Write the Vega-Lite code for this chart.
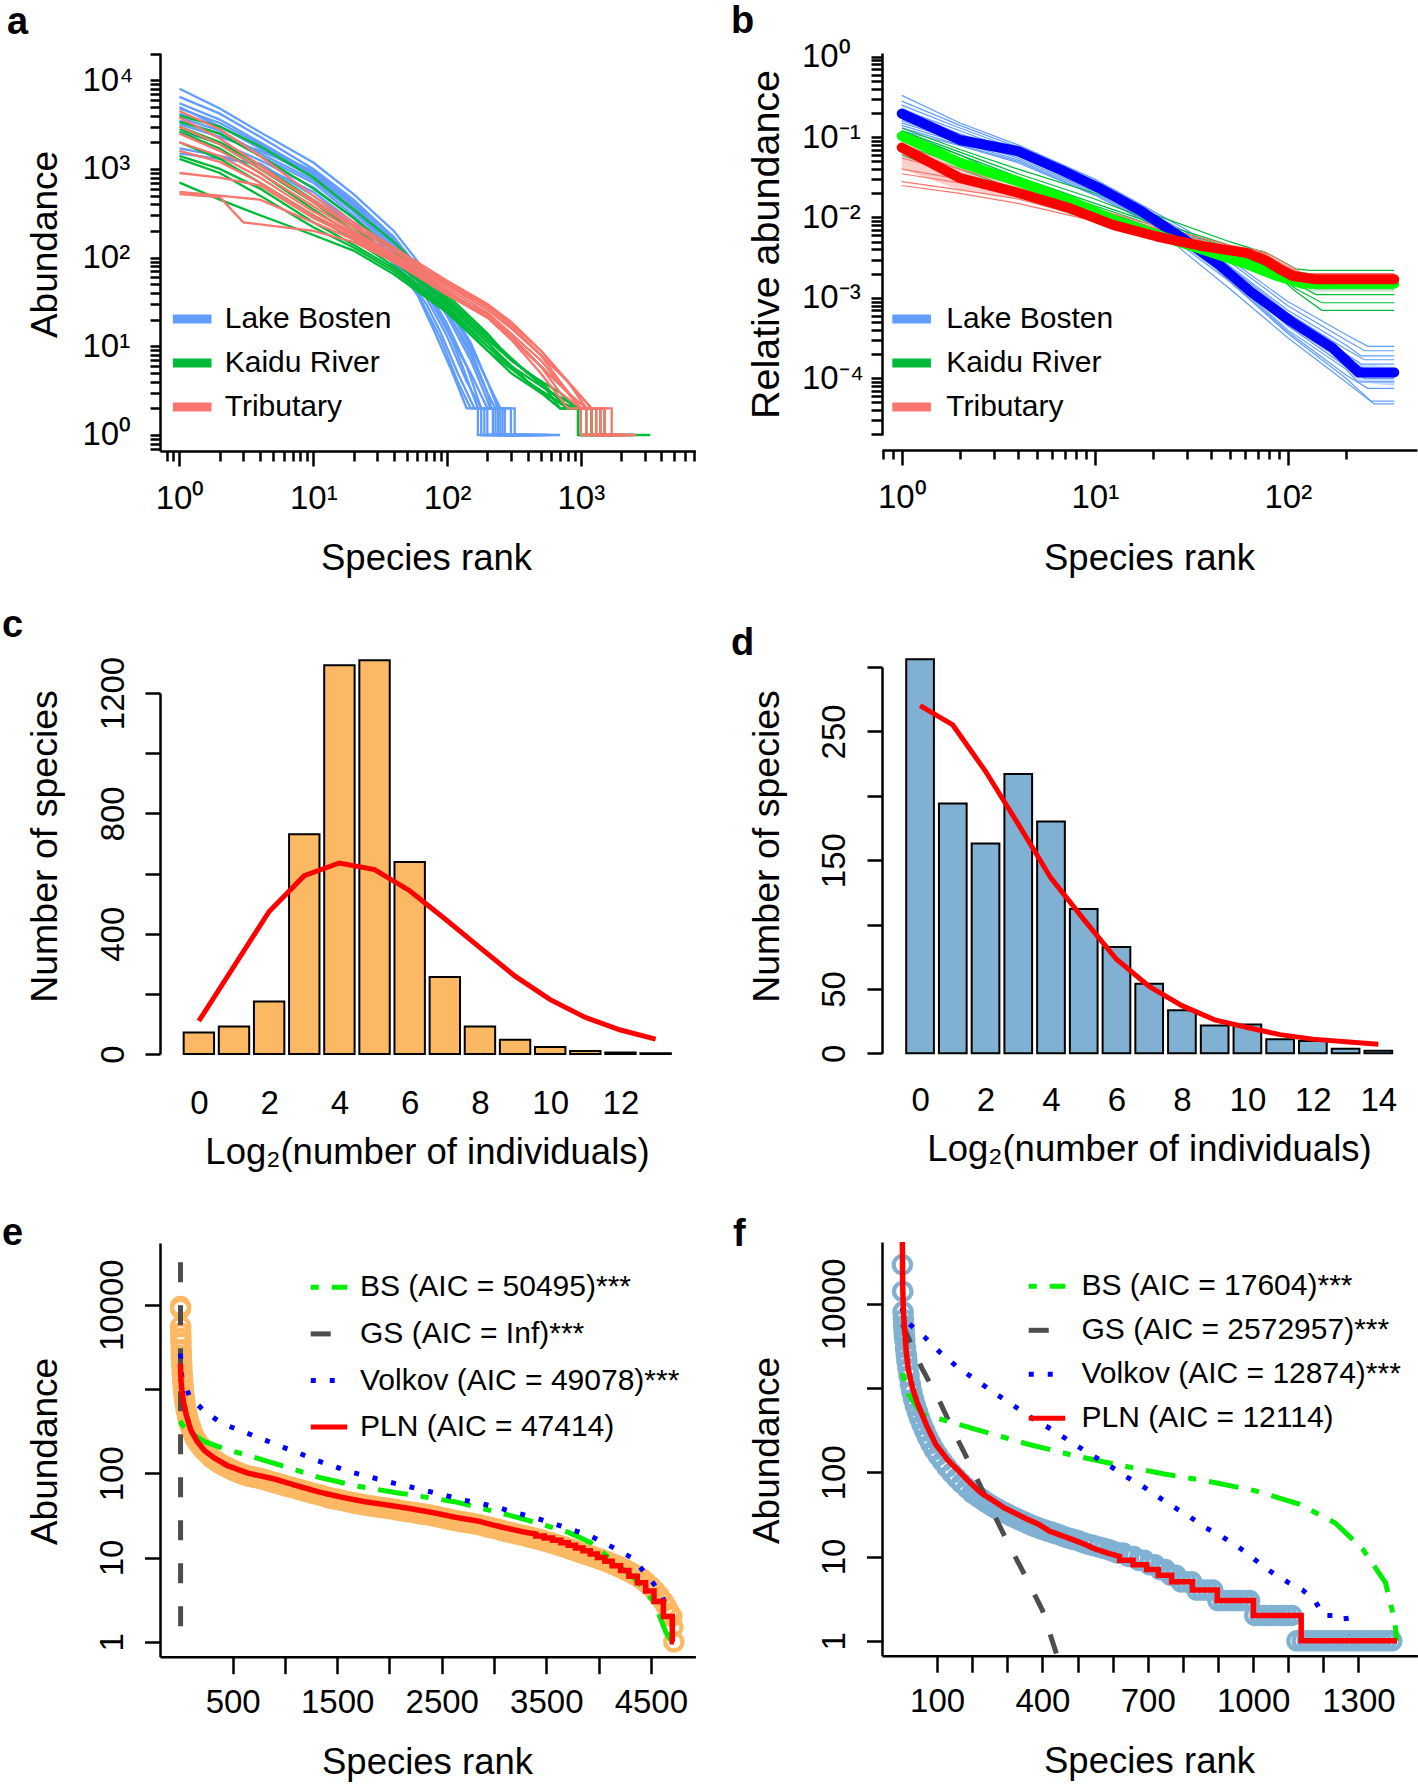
{
"$schema": "https://vega.github.io/schema/vega-lite/v6.json",
"padding": {"left": 2, "top": 3, "right": 0, "bottom": 0},
"config": {
  "font": "Liberation Sans",
  "view": {"stroke": null},
  "axis": {"grid": false, "domainColor": "#000000", "domainWidth": 2.5, "tickColor": "#000000", "tickWidth": 2.5, "labelColor": "#000000", "labelFontSize": 33, "titleColor": "#000000", "titleFontSize": 36.5, "titleFontWeight": "normal", "labelOverlap": false, "labelFlush": false, "labelBound": false, "titleAlign": "center", "titleBaseline": "alphabetic"},
  "legend": {"labelColor": "#000000", "labelFontSize": 30, "labelLimit": 0, "padding": 0, "symbolType": "stroke", "symbolOpacity": 1},
  "title": {"color": "#000000", "fontWeight": "bold", "fontSize": 38, "anchor": "start", "frame": "group", "baseline": "alphabetic"}
},
"datasets": {
"aB": [
{"s":"Lake Bosten","l":"B1","r":1,"v":8000},{"s":"Lake Bosten","l":"B1","r":2,"v":4800},{"s":"Lake Bosten","l":"B1","r":4,"v":2600},{"s":"Lake Bosten","l":"B1","r":10,"v":1180},{"s":"Lake Bosten","l":"B1","r":20,"v":520},{"s":"Lake Bosten","l":"B1","r":40,"v":200},{"s":"Lake Bosten","l":"B1","r":70,"v":68},{"s":"Lake Bosten","l":"B1","r":100,"v":30},{"s":"Lake Bosten","l":"B1","r":150,"v":11},{"s":"Lake Bosten","l":"B1","r":200,"v":4},{"s":"Lake Bosten","l":"B1","r":240,"v":2},{"s":"Lake Bosten","l":"B1","r":300,"v":2},{"s":"Lake Bosten","l":"B1","r":300,"v":1},{"s":"Lake Bosten","l":"B1","r":700,"v":1},
{"s":"Lake Bosten","l":"B2","r":1,"v":6500},{"s":"Lake Bosten","l":"B2","r":2,"v":4200},{"s":"Lake Bosten","l":"B2","r":4,"v":2300},{"s":"Lake Bosten","l":"B2","r":10,"v":1000},{"s":"Lake Bosten","l":"B2","r":20,"v":450},{"s":"Lake Bosten","l":"B2","r":40,"v":170},{"s":"Lake Bosten","l":"B2","r":70,"v":55},{"s":"Lake Bosten","l":"B2","r":100,"v":25},{"s":"Lake Bosten","l":"B2","r":150,"v":8},{"s":"Lake Bosten","l":"B2","r":200,"v":3},{"s":"Lake Bosten","l":"B2","r":230,"v":2},{"s":"Lake Bosten","l":"B2","r":270,"v":2},{"s":"Lake Bosten","l":"B2","r":270,"v":1},{"s":"Lake Bosten","l":"B2","r":520,"v":1},
{"s":"Lake Bosten","l":"B3","r":1,"v":5500},{"s":"Lake Bosten","l":"B3","r":2,"v":3600},{"s":"Lake Bosten","l":"B3","r":4,"v":2000},{"s":"Lake Bosten","l":"B3","r":10,"v":900},{"s":"Lake Bosten","l":"B3","r":20,"v":400},{"s":"Lake Bosten","l":"B3","r":40,"v":150},{"s":"Lake Bosten","l":"B3","r":70,"v":50},{"s":"Lake Bosten","l":"B3","r":100,"v":22},{"s":"Lake Bosten","l":"B3","r":150,"v":7},{"s":"Lake Bosten","l":"B3","r":190,"v":3},{"s":"Lake Bosten","l":"B3","r":210,"v":2},{"s":"Lake Bosten","l":"B3","r":250,"v":2},{"s":"Lake Bosten","l":"B3","r":250,"v":1},{"s":"Lake Bosten","l":"B3","r":450,"v":1},
{"s":"Lake Bosten","l":"B4","r":1,"v":4800},{"s":"Lake Bosten","l":"B4","r":2,"v":3300},{"s":"Lake Bosten","l":"B4","r":4,"v":1900},{"s":"Lake Bosten","l":"B4","r":10,"v":850},{"s":"Lake Bosten","l":"B4","r":20,"v":380},{"s":"Lake Bosten","l":"B4","r":40,"v":140},{"s":"Lake Bosten","l":"B4","r":70,"v":45},{"s":"Lake Bosten","l":"B4","r":100,"v":18},{"s":"Lake Bosten","l":"B4","r":140,"v":6},{"s":"Lake Bosten","l":"B4","r":180,"v":2},{"s":"Lake Bosten","l":"B4","r":230,"v":2},{"s":"Lake Bosten","l":"B4","r":230,"v":1},{"s":"Lake Bosten","l":"B4","r":380,"v":1},
{"s":"Lake Bosten","l":"B5","r":1,"v":4200},{"s":"Lake Bosten","l":"B5","r":2,"v":3000},{"s":"Lake Bosten","l":"B5","r":4,"v":1700},{"s":"Lake Bosten","l":"B5","r":10,"v":800},{"s":"Lake Bosten","l":"B5","r":20,"v":350},{"s":"Lake Bosten","l":"B5","r":40,"v":130},{"s":"Lake Bosten","l":"B5","r":70,"v":42},{"s":"Lake Bosten","l":"B5","r":100,"v":16},{"s":"Lake Bosten","l":"B5","r":130,"v":6},{"s":"Lake Bosten","l":"B5","r":170,"v":2},{"s":"Lake Bosten","l":"B5","r":200,"v":2},{"s":"Lake Bosten","l":"B5","r":200,"v":1},{"s":"Lake Bosten","l":"B5","r":330,"v":1},
{"s":"Lake Bosten","l":"B6","r":1,"v":3800},{"s":"Lake Bosten","l":"B6","r":2,"v":2700},{"s":"Lake Bosten","l":"B6","r":4,"v":1500},{"s":"Lake Bosten","l":"B6","r":10,"v":750},{"s":"Lake Bosten","l":"B6","r":20,"v":330},{"s":"Lake Bosten","l":"B6","r":40,"v":120},{"s":"Lake Bosten","l":"B6","r":70,"v":40},{"s":"Lake Bosten","l":"B6","r":100,"v":15},{"s":"Lake Bosten","l":"B6","r":150,"v":5},{"s":"Lake Bosten","l":"B6","r":200,"v":2},{"s":"Lake Bosten","l":"B6","r":260,"v":2},{"s":"Lake Bosten","l":"B6","r":260,"v":1},{"s":"Lake Bosten","l":"B6","r":600,"v":1},
{"s":"Lake Bosten","l":"B7","r":1,"v":3500},{"s":"Lake Bosten","l":"B7","r":2,"v":2500},{"s":"Lake Bosten","l":"B7","r":4,"v":1400},{"s":"Lake Bosten","l":"B7","r":10,"v":700},{"s":"Lake Bosten","l":"B7","r":20,"v":300},{"s":"Lake Bosten","l":"B7","r":40,"v":110},{"s":"Lake Bosten","l":"B7","r":70,"v":35},{"s":"Lake Bosten","l":"B7","r":100,"v":13},{"s":"Lake Bosten","l":"B7","r":140,"v":4},{"s":"Lake Bosten","l":"B7","r":180,"v":2},{"s":"Lake Bosten","l":"B7","r":220,"v":2},{"s":"Lake Bosten","l":"B7","r":220,"v":1},{"s":"Lake Bosten","l":"B7","r":400,"v":1},
{"s":"Lake Bosten","l":"B8","r":1,"v":2600},{"s":"Lake Bosten","l":"B8","r":2,"v":2000},{"s":"Lake Bosten","l":"B8","r":4,"v":1250},{"s":"Lake Bosten","l":"B8","r":10,"v":620},{"s":"Lake Bosten","l":"B8","r":20,"v":280},{"s":"Lake Bosten","l":"B8","r":40,"v":100},{"s":"Lake Bosten","l":"B8","r":70,"v":30},{"s":"Lake Bosten","l":"B8","r":90,"v":14},{"s":"Lake Bosten","l":"B8","r":120,"v":5},{"s":"Lake Bosten","l":"B8","r":160,"v":2},{"s":"Lake Bosten","l":"B8","r":190,"v":2},{"s":"Lake Bosten","l":"B8","r":190,"v":1},{"s":"Lake Bosten","l":"B8","r":290,"v":1},
{"s":"Lake Bosten","l":"B9","r":1,"v":1700},{"s":"Lake Bosten","l":"B9","r":2,"v":1400},{"s":"Lake Bosten","l":"B9","r":4,"v":1100},{"s":"Lake Bosten","l":"B9","r":10,"v":550},{"s":"Lake Bosten","l":"B9","r":20,"v":250},{"s":"Lake Bosten","l":"B9","r":40,"v":90},{"s":"Lake Bosten","l":"B9","r":60,"v":40},{"s":"Lake Bosten","l":"B9","r":90,"v":12},{"s":"Lake Bosten","l":"B9","r":120,"v":4},{"s":"Lake Bosten","l":"B9","r":150,"v":2},{"s":"Lake Bosten","l":"B9","r":180,"v":2},{"s":"Lake Bosten","l":"B9","r":180,"v":1},{"s":"Lake Bosten","l":"B9","r":350,"v":1},
{"s":"Lake Bosten","l":"B10","r":1,"v":1500},{"s":"Lake Bosten","l":"B10","r":2,"v":1300},{"s":"Lake Bosten","l":"B10","r":4,"v":1150},{"s":"Lake Bosten","l":"B10","r":10,"v":500},{"s":"Lake Bosten","l":"B10","r":20,"v":230},{"s":"Lake Bosten","l":"B10","r":40,"v":85},{"s":"Lake Bosten","l":"B10","r":60,"v":38},{"s":"Lake Bosten","l":"B10","r":80,"v":15},{"s":"Lake Bosten","l":"B10","r":110,"v":5},{"s":"Lake Bosten","l":"B10","r":140,"v":2},{"s":"Lake Bosten","l":"B10","r":170,"v":2},{"s":"Lake Bosten","l":"B10","r":170,"v":1},{"s":"Lake Bosten","l":"B10","r":420,"v":1},
{"s":"Lake Bosten","l":"B11","r":1,"v":5000},{"s":"Lake Bosten","l":"B11","r":2,"v":3000},{"s":"Lake Bosten","l":"B11","r":4,"v":1800},{"s":"Lake Bosten","l":"B11","r":10,"v":950},{"s":"Lake Bosten","l":"B11","r":20,"v":420},{"s":"Lake Bosten","l":"B11","r":40,"v":170},{"s":"Lake Bosten","l":"B11","r":70,"v":60},{"s":"Lake Bosten","l":"B11","r":100,"v":28},{"s":"Lake Bosten","l":"B11","r":150,"v":10},{"s":"Lake Bosten","l":"B11","r":200,"v":4},{"s":"Lake Bosten","l":"B11","r":250,"v":2},{"s":"Lake Bosten","l":"B11","r":320,"v":2},{"s":"Lake Bosten","l":"B11","r":320,"v":1},{"s":"Lake Bosten","l":"B11","r":480,"v":1},
{"s":"Lake Bosten","l":"B12","r":1,"v":3200},{"s":"Lake Bosten","l":"B12","r":2,"v":2300},{"s":"Lake Bosten","l":"B12","r":4,"v":1600},{"s":"Lake Bosten","l":"B12","r":10,"v":900},{"s":"Lake Bosten","l":"B12","r":20,"v":380},{"s":"Lake Bosten","l":"B12","r":40,"v":160},{"s":"Lake Bosten","l":"B12","r":70,"v":55},{"s":"Lake Bosten","l":"B12","r":100,"v":24},{"s":"Lake Bosten","l":"B12","r":150,"v":9},{"s":"Lake Bosten","l":"B12","r":200,"v":3},{"s":"Lake Bosten","l":"B12","r":215,"v":2},{"s":"Lake Bosten","l":"B12","r":240,"v":2},{"s":"Lake Bosten","l":"B12","r":240,"v":1},{"s":"Lake Bosten","l":"B12","r":560,"v":1}
],
"aGR": [
{"s":"Kaidu River","l":"G1","r":1,"v":4000},{"s":"Kaidu River","l":"G1","r":2,"v":3000},{"s":"Kaidu River","l":"G1","r":4,"v":1800},{"s":"Kaidu River","l":"G1","r":10,"v":800},{"s":"Kaidu River","l":"G1","r":20,"v":350},{"s":"Kaidu River","l":"G1","r":40,"v":150},{"s":"Kaidu River","l":"G1","r":100,"v":38},{"s":"Kaidu River","l":"G1","r":200,"v":14},{"s":"Kaidu River","l":"G1","r":300,"v":7},{"s":"Kaidu River","l":"G1","r":500,"v":4},{"s":"Kaidu River","l":"G1","r":700,"v":2},{"s":"Kaidu River","l":"G1","r":1000,"v":2},{"s":"Kaidu River","l":"G1","r":1000,"v":1},{"s":"Kaidu River","l":"G1","r":1400,"v":1},
{"s":"Kaidu River","l":"G2","r":1,"v":3400},{"s":"Kaidu River","l":"G2","r":2,"v":2500},{"s":"Kaidu River","l":"G2","r":4,"v":1400},{"s":"Kaidu River","l":"G2","r":10,"v":600},{"s":"Kaidu River","l":"G2","r":20,"v":280},{"s":"Kaidu River","l":"G2","r":40,"v":120},{"s":"Kaidu River","l":"G2","r":100,"v":35},{"s":"Kaidu River","l":"G2","r":200,"v":13},{"s":"Kaidu River","l":"G2","r":400,"v":5},{"s":"Kaidu River","l":"G2","r":700,"v":3},{"s":"Kaidu River","l":"G2","r":900,"v":2},{"s":"Kaidu River","l":"G2","r":1300,"v":2},{"s":"Kaidu River","l":"G2","r":1300,"v":1},{"s":"Kaidu River","l":"G2","r":2300,"v":1},
{"s":"Kaidu River","l":"G3","r":1,"v":3000},{"s":"Kaidu River","l":"G3","r":2,"v":2000},{"s":"Kaidu River","l":"G3","r":4,"v":1100},{"s":"Kaidu River","l":"G3","r":10,"v":450},{"s":"Kaidu River","l":"G3","r":20,"v":220},{"s":"Kaidu River","l":"G3","r":40,"v":100},{"s":"Kaidu River","l":"G3","r":100,"v":32},{"s":"Kaidu River","l":"G3","r":200,"v":12},{"s":"Kaidu River","l":"G3","r":400,"v":5},{"s":"Kaidu River","l":"G3","r":600,"v":3},{"s":"Kaidu River","l":"G3","r":1000,"v":2},{"s":"Kaidu River","l":"G3","r":1500,"v":2},{"s":"Kaidu River","l":"G3","r":1500,"v":1},{"s":"Kaidu River","l":"G3","r":2000,"v":1},
{"s":"Kaidu River","l":"G4","r":1,"v":2600},{"s":"Kaidu River","l":"G4","r":2,"v":1700},{"s":"Kaidu River","l":"G4","r":4,"v":900},{"s":"Kaidu River","l":"G4","r":10,"v":350},{"s":"Kaidu River","l":"G4","r":20,"v":180},{"s":"Kaidu River","l":"G4","r":40,"v":90},{"s":"Kaidu River","l":"G4","r":100,"v":30},{"s":"Kaidu River","l":"G4","r":200,"v":11},{"s":"Kaidu River","l":"G4","r":400,"v":4},{"s":"Kaidu River","l":"G4","r":700,"v":2},{"s":"Kaidu River","l":"G4","r":1000,"v":2},{"s":"Kaidu River","l":"G4","r":1000,"v":1},{"s":"Kaidu River","l":"G4","r":1300,"v":1},
{"s":"Kaidu River","l":"G5","r":1,"v":2000},{"s":"Kaidu River","l":"G5","r":2,"v":1300},{"s":"Kaidu River","l":"G5","r":4,"v":700},{"s":"Kaidu River","l":"G5","r":10,"v":300},{"s":"Kaidu River","l":"G5","r":20,"v":160},{"s":"Kaidu River","l":"G5","r":40,"v":80},{"s":"Kaidu River","l":"G5","r":100,"v":28},{"s":"Kaidu River","l":"G5","r":200,"v":10},{"s":"Kaidu River","l":"G5","r":400,"v":4},{"s":"Kaidu River","l":"G5","r":800,"v":2},{"s":"Kaidu River","l":"G5","r":1200,"v":2},{"s":"Kaidu River","l":"G5","r":1200,"v":1},{"s":"Kaidu River","l":"G5","r":3300,"v":1},
{"s":"Kaidu River","l":"G6","r":1,"v":1400},{"s":"Kaidu River","l":"G6","r":2,"v":1000},{"s":"Kaidu River","l":"G6","r":4,"v":600},{"s":"Kaidu River","l":"G6","r":10,"v":250},{"s":"Kaidu River","l":"G6","r":20,"v":140},{"s":"Kaidu River","l":"G6","r":40,"v":75},{"s":"Kaidu River","l":"G6","r":100,"v":26},{"s":"Kaidu River","l":"G6","r":200,"v":10},{"s":"Kaidu River","l":"G6","r":300,"v":6},{"s":"Kaidu River","l":"G6","r":600,"v":3},{"s":"Kaidu River","l":"G6","r":1000,"v":2},{"s":"Kaidu River","l":"G6","r":1400,"v":2},{"s":"Kaidu River","l":"G6","r":1400,"v":1},{"s":"Kaidu River","l":"G6","r":1800,"v":1},
{"s":"Kaidu River","l":"G7","r":1,"v":1300},{"s":"Kaidu River","l":"G7","r":2,"v":900},{"s":"Kaidu River","l":"G7","r":4,"v":500},{"s":"Kaidu River","l":"G7","r":10,"v":220},{"s":"Kaidu River","l":"G7","r":20,"v":130},{"s":"Kaidu River","l":"G7","r":40,"v":70},{"s":"Kaidu River","l":"G7","r":100,"v":25},{"s":"Kaidu River","l":"G7","r":200,"v":9},{"s":"Kaidu River","l":"G7","r":400,"v":4},{"s":"Kaidu River","l":"G7","r":700,"v":2},{"s":"Kaidu River","l":"G7","r":950,"v":2},{"s":"Kaidu River","l":"G7","r":950,"v":1},{"s":"Kaidu River","l":"G7","r":1100,"v":1},
{"s":"Kaidu River","l":"G8","r":1,"v":700},{"s":"Kaidu River","l":"G8","r":2,"v":450},{"s":"Kaidu River","l":"G8","r":4,"v":300},{"s":"Kaidu River","l":"G8","r":10,"v":180},{"s":"Kaidu River","l":"G8","r":20,"v":120},{"s":"Kaidu River","l":"G8","r":40,"v":65},{"s":"Kaidu River","l":"G8","r":100,"v":24},{"s":"Kaidu River","l":"G8","r":200,"v":9},{"s":"Kaidu River","l":"G8","r":300,"v":5},{"s":"Kaidu River","l":"G8","r":500,"v":3},{"s":"Kaidu River","l":"G8","r":900,"v":2},{"s":"Kaidu River","l":"G8","r":1200,"v":2},{"s":"Kaidu River","l":"G8","r":1200,"v":1},{"s":"Kaidu River","l":"G8","r":2500,"v":1},
{"s":"Kaidu River","l":"G9","r":1,"v":2800},{"s":"Kaidu River","l":"G9","r":2,"v":1900},{"s":"Kaidu River","l":"G9","r":4,"v":1000},{"s":"Kaidu River","l":"G9","r":10,"v":420},{"s":"Kaidu River","l":"G9","r":20,"v":200},{"s":"Kaidu River","l":"G9","r":40,"v":95},{"s":"Kaidu River","l":"G9","r":100,"v":33},{"s":"Kaidu River","l":"G9","r":200,"v":12},{"s":"Kaidu River","l":"G9","r":300,"v":7},{"s":"Kaidu River","l":"G9","r":500,"v":4},{"s":"Kaidu River","l":"G9","r":800,"v":2},{"s":"Kaidu River","l":"G9","r":1100,"v":2},{"s":"Kaidu River","l":"G9","r":1100,"v":1},{"s":"Kaidu River","l":"G9","r":1500,"v":1},
{"s":"Tributary","l":"R1","r":1,"v":4500},{"s":"Tributary","l":"R1","r":2,"v":2800},{"s":"Tributary","l":"R1","r":4,"v":1400},{"s":"Tributary","l":"R1","r":10,"v":500},{"s":"Tributary","l":"R1","r":20,"v":250},{"s":"Tributary","l":"R1","r":40,"v":130},{"s":"Tributary","l":"R1","r":100,"v":55},{"s":"Tributary","l":"R1","r":200,"v":30},{"s":"Tributary","l":"R1","r":300,"v":19},{"s":"Tributary","l":"R1","r":500,"v":9},{"s":"Tributary","l":"R1","r":800,"v":4},{"s":"Tributary","l":"R1","r":1200,"v":2},{"s":"Tributary","l":"R1","r":1700,"v":2},{"s":"Tributary","l":"R1","r":1700,"v":1},{"s":"Tributary","l":"R1","r":2600,"v":1},
{"s":"Tributary","l":"R2","r":1,"v":3800},{"s":"Tributary","l":"R2","r":2,"v":2200},{"s":"Tributary","l":"R2","r":4,"v":1100},{"s":"Tributary","l":"R2","r":10,"v":420},{"s":"Tributary","l":"R2","r":20,"v":220},{"s":"Tributary","l":"R2","r":40,"v":120},{"s":"Tributary","l":"R2","r":100,"v":50},{"s":"Tributary","l":"R2","r":200,"v":28},{"s":"Tributary","l":"R2","r":300,"v":17},{"s":"Tributary","l":"R2","r":500,"v":8},{"s":"Tributary","l":"R2","r":800,"v":4},{"s":"Tributary","l":"R2","r":1100,"v":2},{"s":"Tributary","l":"R2","r":1500,"v":2},{"s":"Tributary","l":"R2","r":1500,"v":1},{"s":"Tributary","l":"R2","r":2100,"v":1},
{"s":"Tributary","l":"R3","r":1,"v":2500},{"s":"Tributary","l":"R3","r":2,"v":1600},{"s":"Tributary","l":"R3","r":4,"v":900},{"s":"Tributary","l":"R3","r":10,"v":380},{"s":"Tributary","l":"R3","r":20,"v":200},{"s":"Tributary","l":"R3","r":40,"v":110},{"s":"Tributary","l":"R3","r":100,"v":48},{"s":"Tributary","l":"R3","r":200,"v":26},{"s":"Tributary","l":"R3","r":300,"v":16},{"s":"Tributary","l":"R3","r":500,"v":8},{"s":"Tributary","l":"R3","r":700,"v":4},{"s":"Tributary","l":"R3","r":1000,"v":2},{"s":"Tributary","l":"R3","r":1300,"v":2},{"s":"Tributary","l":"R3","r":1300,"v":1},{"s":"Tributary","l":"R3","r":1800,"v":1},
{"s":"Tributary","l":"R4","r":1,"v":2000},{"s":"Tributary","l":"R4","r":2,"v":1400},{"s":"Tributary","l":"R4","r":4,"v":800},{"s":"Tributary","l":"R4","r":10,"v":330},{"s":"Tributary","l":"R4","r":20,"v":190},{"s":"Tributary","l":"R4","r":40,"v":105},{"s":"Tributary","l":"R4","r":100,"v":45},{"s":"Tributary","l":"R4","r":200,"v":24},{"s":"Tributary","l":"R4","r":300,"v":14},{"s":"Tributary","l":"R4","r":500,"v":7},{"s":"Tributary","l":"R4","r":800,"v":3},{"s":"Tributary","l":"R4","r":1100,"v":2},{"s":"Tributary","l":"R4","r":1400,"v":2},{"s":"Tributary","l":"R4","r":1400,"v":1},{"s":"Tributary","l":"R4","r":2000,"v":1},
{"s":"Tributary","l":"R5","r":1,"v":1600},{"s":"Tributary","l":"R5","r":2,"v":1200},{"s":"Tributary","l":"R5","r":4,"v":700},{"s":"Tributary","l":"R5","r":10,"v":300},{"s":"Tributary","l":"R5","r":20,"v":180},{"s":"Tributary","l":"R5","r":40,"v":100},{"s":"Tributary","l":"R5","r":100,"v":42},{"s":"Tributary","l":"R5","r":200,"v":22},{"s":"Tributary","l":"R5","r":300,"v":13},{"s":"Tributary","l":"R5","r":500,"v":6},{"s":"Tributary","l":"R5","r":800,"v":3},{"s":"Tributary","l":"R5","r":1000,"v":2},{"s":"Tributary","l":"R5","r":1300,"v":2},{"s":"Tributary","l":"R5","r":1300,"v":1},{"s":"Tributary","l":"R5","r":1900,"v":1},
{"s":"Tributary","l":"R6","r":1,"v":900},{"s":"Tributary","l":"R6","r":2,"v":800},{"s":"Tributary","l":"R6","r":4,"v":650},{"s":"Tributary","l":"R6","r":10,"v":280},{"s":"Tributary","l":"R6","r":20,"v":170},{"s":"Tributary","l":"R6","r":40,"v":95},{"s":"Tributary","l":"R6","r":100,"v":40},{"s":"Tributary","l":"R6","r":200,"v":22},{"s":"Tributary","l":"R6","r":300,"v":12},{"s":"Tributary","l":"R6","r":500,"v":6},{"s":"Tributary","l":"R6","r":700,"v":3},{"s":"Tributary","l":"R6","r":1000,"v":2},{"s":"Tributary","l":"R6","r":1000,"v":1},{"s":"Tributary","l":"R6","r":1600,"v":1},
{"s":"Tributary","l":"R7","r":1,"v":550},{"s":"Tributary","l":"R7","r":2,"v":500},{"s":"Tributary","l":"R7","r":4,"v":450},{"s":"Tributary","l":"R7","r":10,"v":250},{"s":"Tributary","l":"R7","r":20,"v":160},{"s":"Tributary","l":"R7","r":40,"v":90},{"s":"Tributary","l":"R7","r":100,"v":38},{"s":"Tributary","l":"R7","r":200,"v":21},{"s":"Tributary","l":"R7","r":300,"v":12},{"s":"Tributary","l":"R7","r":500,"v":5},{"s":"Tributary","l":"R7","r":800,"v":2},{"s":"Tributary","l":"R7","r":1100,"v":2},{"s":"Tributary","l":"R7","r":1100,"v":1},{"s":"Tributary","l":"R7","r":2200,"v":1},
{"s":"Tributary","l":"R8","r":1,"v":520},{"s":"Tributary","l":"R8","r":2,"v":480},{"s":"Tributary","l":"R8","r":3,"v":250},{"s":"Tributary","l":"R8","r":10,"v":200},{"s":"Tributary","l":"R8","r":20,"v":150},{"s":"Tributary","l":"R8","r":40,"v":90},{"s":"Tributary","l":"R8","r":100,"v":40},{"s":"Tributary","l":"R8","r":200,"v":23},{"s":"Tributary","l":"R8","r":300,"v":13},{"s":"Tributary","l":"R8","r":500,"v":6},{"s":"Tributary","l":"R8","r":800,"v":3},{"s":"Tributary","l":"R8","r":1000,"v":2},{"s":"Tributary","l":"R8","r":1200,"v":2},{"s":"Tributary","l":"R8","r":1200,"v":1},{"s":"Tributary","l":"R8","r":1700,"v":1},
{"s":"Tributary","l":"R9","r":1,"v":3000},{"s":"Tributary","l":"R9","r":2,"v":1900},{"s":"Tributary","l":"R9","r":4,"v":1000},{"s":"Tributary","l":"R9","r":10,"v":450},{"s":"Tributary","l":"R9","r":20,"v":230},{"s":"Tributary","l":"R9","r":40,"v":120},{"s":"Tributary","l":"R9","r":100,"v":52},{"s":"Tributary","l":"R9","r":200,"v":29},{"s":"Tributary","l":"R9","r":300,"v":18},{"s":"Tributary","l":"R9","r":500,"v":9},{"s":"Tributary","l":"R9","r":800,"v":4},{"s":"Tributary","l":"R9","r":1200,"v":2},{"s":"Tributary","l":"R9","r":1500,"v":2},{"s":"Tributary","l":"R9","r":1500,"v":1},{"s":"Tributary","l":"R9","r":2400,"v":1}
],
"bT": [
{"s":"Lake Bosten","l":"b1","r":1,"v":0.33},{"s":"Lake Bosten","l":"b1","r":2,"v":0.15},{"s":"Lake Bosten","l":"b1","r":4,"v":0.08},{"s":"Lake Bosten","l":"b1","r":10,"v":0.03},{"s":"Lake Bosten","l":"b1","r":20,"v":0.012},{"s":"Lake Bosten","l":"b1","r":30,"v":0.007},{"s":"Lake Bosten","l":"b1","r":50,"v":0.003},{"s":"Lake Bosten","l":"b1","r":100,"v":0.0009},{"s":"Lake Bosten","l":"b1","r":200,"v":0.00035},{"s":"Lake Bosten","l":"b1","r":260,"v":0.00025},{"s":"Lake Bosten","l":"b1","r":356,"v":0.00025},
{"s":"Lake Bosten","l":"b2","r":1,"v":0.28},{"s":"Lake Bosten","l":"b2","r":2,"v":0.14},{"s":"Lake Bosten","l":"b2","r":4,"v":0.075},{"s":"Lake Bosten","l":"b2","r":10,"v":0.028},{"s":"Lake Bosten","l":"b2","r":20,"v":0.011},{"s":"Lake Bosten","l":"b2","r":30,"v":0.0065},{"s":"Lake Bosten","l":"b2","r":50,"v":0.0028},{"s":"Lake Bosten","l":"b2","r":100,"v":0.0008},{"s":"Lake Bosten","l":"b2","r":200,"v":0.0003},{"s":"Lake Bosten","l":"b2","r":250,"v":0.00022},{"s":"Lake Bosten","l":"b2","r":356,"v":0.00022},
{"s":"Lake Bosten","l":"b3","r":1,"v":0.25},{"s":"Lake Bosten","l":"b3","r":2,"v":0.13},{"s":"Lake Bosten","l":"b3","r":4,"v":0.07},{"s":"Lake Bosten","l":"b3","r":10,"v":0.026},{"s":"Lake Bosten","l":"b3","r":20,"v":0.0105},{"s":"Lake Bosten","l":"b3","r":30,"v":0.006},{"s":"Lake Bosten","l":"b3","r":50,"v":0.0025},{"s":"Lake Bosten","l":"b3","r":100,"v":0.0007},{"s":"Lake Bosten","l":"b3","r":200,"v":0.00026},{"s":"Lake Bosten","l":"b3","r":240,"v":0.00019},{"s":"Lake Bosten","l":"b3","r":356,"v":0.00019},
{"s":"Lake Bosten","l":"b4","r":1,"v":0.22},{"s":"Lake Bosten","l":"b4","r":2,"v":0.12},{"s":"Lake Bosten","l":"b4","r":4,"v":0.065},{"s":"Lake Bosten","l":"b4","r":10,"v":0.025},{"s":"Lake Bosten","l":"b4","r":20,"v":0.01},{"s":"Lake Bosten","l":"b4","r":30,"v":0.0058},{"s":"Lake Bosten","l":"b4","r":50,"v":0.0024},{"s":"Lake Bosten","l":"b4","r":100,"v":0.00065},{"s":"Lake Bosten","l":"b4","r":200,"v":0.00023},{"s":"Lake Bosten","l":"b4","r":250,"v":0.00017},{"s":"Lake Bosten","l":"b4","r":356,"v":0.00017},
{"s":"Lake Bosten","l":"b5","r":1,"v":0.2},{"s":"Lake Bosten","l":"b5","r":2,"v":0.11},{"s":"Lake Bosten","l":"b5","r":4,"v":0.062},{"s":"Lake Bosten","l":"b5","r":10,"v":0.024},{"s":"Lake Bosten","l":"b5","r":20,"v":0.0098},{"s":"Lake Bosten","l":"b5","r":30,"v":0.0055},{"s":"Lake Bosten","l":"b5","r":50,"v":0.0022},{"s":"Lake Bosten","l":"b5","r":100,"v":0.0006},{"s":"Lake Bosten","l":"b5","r":200,"v":0.0002},{"s":"Lake Bosten","l":"b5","r":240,"v":0.00015},{"s":"Lake Bosten","l":"b5","r":356,"v":0.00015},
{"s":"Lake Bosten","l":"b6","r":1,"v":0.18},{"s":"Lake Bosten","l":"b6","r":2,"v":0.1},{"s":"Lake Bosten","l":"b6","r":4,"v":0.06},{"s":"Lake Bosten","l":"b6","r":10,"v":0.023},{"s":"Lake Bosten","l":"b6","r":20,"v":0.0095},{"s":"Lake Bosten","l":"b6","r":30,"v":0.005},{"s":"Lake Bosten","l":"b6","r":50,"v":0.002},{"s":"Lake Bosten","l":"b6","r":100,"v":0.00055},{"s":"Lake Bosten","l":"b6","r":200,"v":0.00018},{"s":"Lake Bosten","l":"b6","r":250,"v":0.00013},{"s":"Lake Bosten","l":"b6","r":356,"v":0.00013},
{"s":"Lake Bosten","l":"b7","r":1,"v":0.16},{"s":"Lake Bosten","l":"b7","r":2,"v":0.095},{"s":"Lake Bosten","l":"b7","r":4,"v":0.058},{"s":"Lake Bosten","l":"b7","r":10,"v":0.022},{"s":"Lake Bosten","l":"b7","r":20,"v":0.009},{"s":"Lake Bosten","l":"b7","r":30,"v":0.0048},{"s":"Lake Bosten","l":"b7","r":50,"v":0.0019},{"s":"Lake Bosten","l":"b7","r":100,"v":0.0005},{"s":"Lake Bosten","l":"b7","r":200,"v":0.00016},{"s":"Lake Bosten","l":"b7","r":240,"v":0.00012},{"s":"Lake Bosten","l":"b7","r":356,"v":0.00012},
{"s":"Lake Bosten","l":"b8","r":1,"v":0.15},{"s":"Lake Bosten","l":"b8","r":2,"v":0.09},{"s":"Lake Bosten","l":"b8","r":4,"v":0.055},{"s":"Lake Bosten","l":"b8","r":10,"v":0.021},{"s":"Lake Bosten","l":"b8","r":20,"v":0.0088},{"s":"Lake Bosten","l":"b8","r":30,"v":0.0045},{"s":"Lake Bosten","l":"b8","r":50,"v":0.0018},{"s":"Lake Bosten","l":"b8","r":100,"v":0.00045},{"s":"Lake Bosten","l":"b8","r":200,"v":0.00014},{"s":"Lake Bosten","l":"b8","r":250,"v":0.0001},{"s":"Lake Bosten","l":"b8","r":356,"v":0.0001},
{"s":"Lake Bosten","l":"b9","r":1,"v":0.14},{"s":"Lake Bosten","l":"b9","r":2,"v":0.085},{"s":"Lake Bosten","l":"b9","r":4,"v":0.052},{"s":"Lake Bosten","l":"b9","r":10,"v":0.02},{"s":"Lake Bosten","l":"b9","r":20,"v":0.0085},{"s":"Lake Bosten","l":"b9","r":30,"v":0.0043},{"s":"Lake Bosten","l":"b9","r":50,"v":0.0017},{"s":"Lake Bosten","l":"b9","r":100,"v":0.0004},{"s":"Lake Bosten","l":"b9","r":200,"v":0.00013},{"s":"Lake Bosten","l":"b9","r":230,"v":0.00009},{"s":"Lake Bosten","l":"b9","r":356,"v":0.00009},
{"s":"Lake Bosten","l":"b10","r":1,"v":0.13},{"s":"Lake Bosten","l":"b10","r":2,"v":0.08},{"s":"Lake Bosten","l":"b10","r":4,"v":0.05},{"s":"Lake Bosten","l":"b10","r":10,"v":0.019},{"s":"Lake Bosten","l":"b10","r":20,"v":0.0082},{"s":"Lake Bosten","l":"b10","r":30,"v":0.004},{"s":"Lake Bosten","l":"b10","r":50,"v":0.0016},{"s":"Lake Bosten","l":"b10","r":100,"v":0.00038},{"s":"Lake Bosten","l":"b10","r":200,"v":0.00011},{"s":"Lake Bosten","l":"b10","r":260,"v":0.000075},{"s":"Lake Bosten","l":"b10","r":356,"v":0.000075},
{"s":"Lake Bosten","l":"b11","r":1,"v":0.12},{"s":"Lake Bosten","l":"b11","r":2,"v":0.078},{"s":"Lake Bosten","l":"b11","r":4,"v":0.048},{"s":"Lake Bosten","l":"b11","r":10,"v":0.019},{"s":"Lake Bosten","l":"b11","r":20,"v":0.008},{"s":"Lake Bosten","l":"b11","r":30,"v":0.0035},{"s":"Lake Bosten","l":"b11","r":50,"v":0.0013},{"s":"Lake Bosten","l":"b11","r":100,"v":0.00032},{"s":"Lake Bosten","l":"b11","r":200,"v":0.00009},{"s":"Lake Bosten","l":"b11","r":280,"v":0.000048},{"s":"Lake Bosten","l":"b11","r":356,"v":0.000048},
{"s":"Lake Bosten","l":"b12","r":1,"v":0.17},{"s":"Lake Bosten","l":"b12","r":2,"v":0.1},{"s":"Lake Bosten","l":"b12","r":4,"v":0.06},{"s":"Lake Bosten","l":"b12","r":10,"v":0.025},{"s":"Lake Bosten","l":"b12","r":20,"v":0.01},{"s":"Lake Bosten","l":"b12","r":30,"v":0.0052},{"s":"Lake Bosten","l":"b12","r":50,"v":0.0016},{"s":"Lake Bosten","l":"b12","r":100,"v":0.00036},{"s":"Lake Bosten","l":"b12","r":200,"v":0.0001},{"s":"Lake Bosten","l":"b12","r":270,"v":0.000052},{"s":"Lake Bosten","l":"b12","r":356,"v":0.000052},
{"s":"Kaidu River","l":"g1","r":1,"v":0.13},{"s":"Kaidu River","l":"g1","r":2,"v":0.07},{"s":"Kaidu River","l":"g1","r":4,"v":0.04},{"s":"Kaidu River","l":"g1","r":10,"v":0.02},{"s":"Kaidu River","l":"g1","r":20,"v":0.011},{"s":"Kaidu River","l":"g1","r":50,"v":0.005},{"s":"Kaidu River","l":"g1","r":80,"v":0.0035},{"s":"Kaidu River","l":"g1","r":110,"v":0.0023},{"s":"Kaidu River","l":"g1","r":130,"v":0.0022},{"s":"Kaidu River","l":"g1","r":356,"v":0.0022},
{"s":"Kaidu River","l":"g2","r":1,"v":0.12},{"s":"Kaidu River","l":"g2","r":2,"v":0.065},{"s":"Kaidu River","l":"g2","r":4,"v":0.035},{"s":"Kaidu River","l":"g2","r":10,"v":0.017},{"s":"Kaidu River","l":"g2","r":20,"v":0.009},{"s":"Kaidu River","l":"g2","r":50,"v":0.0045},{"s":"Kaidu River","l":"g2","r":80,"v":0.0032},{"s":"Kaidu River","l":"g2","r":110,"v":0.0021},{"s":"Kaidu River","l":"g2","r":130,"v":0.002},{"s":"Kaidu River","l":"g2","r":356,"v":0.002},
{"s":"Kaidu River","l":"g3","r":1,"v":0.11},{"s":"Kaidu River","l":"g3","r":2,"v":0.06},{"s":"Kaidu River","l":"g3","r":4,"v":0.032},{"s":"Kaidu River","l":"g3","r":10,"v":0.015},{"s":"Kaidu River","l":"g3","r":20,"v":0.0085},{"s":"Kaidu River","l":"g3","r":50,"v":0.0042},{"s":"Kaidu River","l":"g3","r":80,"v":0.003},{"s":"Kaidu River","l":"g3","r":110,"v":0.002},{"s":"Kaidu River","l":"g3","r":140,"v":0.0018},{"s":"Kaidu River","l":"g3","r":356,"v":0.0018},
{"s":"Kaidu River","l":"g4","r":1,"v":0.1},{"s":"Kaidu River","l":"g4","r":2,"v":0.055},{"s":"Kaidu River","l":"g4","r":4,"v":0.03},{"s":"Kaidu River","l":"g4","r":10,"v":0.014},{"s":"Kaidu River","l":"g4","r":20,"v":0.008},{"s":"Kaidu River","l":"g4","r":50,"v":0.004},{"s":"Kaidu River","l":"g4","r":80,"v":0.0028},{"s":"Kaidu River","l":"g4","r":110,"v":0.0018},{"s":"Kaidu River","l":"g4","r":140,"v":0.0015},{"s":"Kaidu River","l":"g4","r":356,"v":0.0015},
{"s":"Kaidu River","l":"g5","r":1,"v":0.09},{"s":"Kaidu River","l":"g5","r":2,"v":0.05},{"s":"Kaidu River","l":"g5","r":4,"v":0.028},{"s":"Kaidu River","l":"g5","r":10,"v":0.013},{"s":"Kaidu River","l":"g5","r":20,"v":0.0075},{"s":"Kaidu River","l":"g5","r":50,"v":0.0038},{"s":"Kaidu River","l":"g5","r":80,"v":0.0026},{"s":"Kaidu River","l":"g5","r":110,"v":0.0016},{"s":"Kaidu River","l":"g5","r":140,"v":0.0013},{"s":"Kaidu River","l":"g5","r":356,"v":0.0013},
{"s":"Kaidu River","l":"g6","r":1,"v":0.08},{"s":"Kaidu River","l":"g6","r":2,"v":0.045},{"s":"Kaidu River","l":"g6","r":4,"v":0.025},{"s":"Kaidu River","l":"g6","r":10,"v":0.012},{"s":"Kaidu River","l":"g6","r":20,"v":0.007},{"s":"Kaidu River","l":"g6","r":50,"v":0.0036},{"s":"Kaidu River","l":"g6","r":80,"v":0.0025},{"s":"Kaidu River","l":"g6","r":110,"v":0.0015},{"s":"Kaidu River","l":"g6","r":140,"v":0.0011},{"s":"Kaidu River","l":"g6","r":356,"v":0.0011},
{"s":"Kaidu River","l":"g7","r":1,"v":0.07},{"s":"Kaidu River","l":"g7","r":2,"v":0.04},{"s":"Kaidu River","l":"g7","r":4,"v":0.022},{"s":"Kaidu River","l":"g7","r":10,"v":0.011},{"s":"Kaidu River","l":"g7","r":20,"v":0.0065},{"s":"Kaidu River","l":"g7","r":50,"v":0.0035},{"s":"Kaidu River","l":"g7","r":80,"v":0.0024},{"s":"Kaidu River","l":"g7","r":110,"v":0.0013},{"s":"Kaidu River","l":"g7","r":150,"v":0.00087},{"s":"Kaidu River","l":"g7","r":356,"v":0.00087},
{"s":"Kaidu River","l":"g8","r":1,"v":0.06},{"s":"Kaidu River","l":"g8","r":2,"v":0.032},{"s":"Kaidu River","l":"g8","r":4,"v":0.018},{"s":"Kaidu River","l":"g8","r":10,"v":0.009},{"s":"Kaidu River","l":"g8","r":20,"v":0.006},{"s":"Kaidu River","l":"g8","r":50,"v":0.0034},{"s":"Kaidu River","l":"g8","r":80,"v":0.0023},{"s":"Kaidu River","l":"g8","r":110,"v":0.0012},{"s":"Kaidu River","l":"g8","r":150,"v":0.0007},{"s":"Kaidu River","l":"g8","r":356,"v":0.0007},
{"s":"Kaidu River","l":"g9","r":1,"v":0.12},{"s":"Kaidu River","l":"g9","r":2,"v":0.06},{"s":"Kaidu River","l":"g9","r":4,"v":0.028},{"s":"Kaidu River","l":"g9","r":10,"v":0.011},{"s":"Kaidu River","l":"g9","r":20,"v":0.0065},{"s":"Kaidu River","l":"g9","r":50,"v":0.0037},{"s":"Kaidu River","l":"g9","r":80,"v":0.0027},{"s":"Kaidu River","l":"g9","r":110,"v":0.0019},{"s":"Kaidu River","l":"g9","r":130,"v":0.0014},{"s":"Kaidu River","l":"g9","r":356,"v":0.0014},
{"s":"Tributary","l":"t1","r":1,"v":0.09},{"s":"Tributary","l":"t1","r":2,"v":0.05},{"s":"Tributary","l":"t1","r":4,"v":0.03},{"s":"Tributary","l":"t1","r":10,"v":0.013},{"s":"Tributary","l":"t1","r":20,"v":0.008},{"s":"Tributary","l":"t1","r":50,"v":0.0045},{"s":"Tributary","l":"t1","r":75,"v":0.0038},{"s":"Tributary","l":"t1","r":90,"v":0.003},{"s":"Tributary","l":"t1","r":120,"v":0.002},{"s":"Tributary","l":"t1","r":356,"v":0.002},
{"s":"Tributary","l":"t2","r":1,"v":0.07},{"s":"Tributary","l":"t2","r":2,"v":0.04},{"s":"Tributary","l":"t2","r":4,"v":0.025},{"s":"Tributary","l":"t2","r":10,"v":0.012},{"s":"Tributary","l":"t2","r":20,"v":0.0075},{"s":"Tributary","l":"t2","r":50,"v":0.0042},{"s":"Tributary","l":"t2","r":75,"v":0.0036},{"s":"Tributary","l":"t2","r":90,"v":0.0028},{"s":"Tributary","l":"t2","r":120,"v":0.0019},{"s":"Tributary","l":"t2","r":356,"v":0.0019},
{"s":"Tributary","l":"t3","r":1,"v":0.055},{"s":"Tributary","l":"t3","r":2,"v":0.035},{"s":"Tributary","l":"t3","r":4,"v":0.022},{"s":"Tributary","l":"t3","r":10,"v":0.011},{"s":"Tributary","l":"t3","r":20,"v":0.007},{"s":"Tributary","l":"t3","r":50,"v":0.004},{"s":"Tributary","l":"t3","r":75,"v":0.0035},{"s":"Tributary","l":"t3","r":90,"v":0.0027},{"s":"Tributary","l":"t3","r":130,"v":0.0018},{"s":"Tributary","l":"t3","r":356,"v":0.0018},
{"s":"Tributary","l":"t4","r":1,"v":0.04},{"s":"Tributary","l":"t4","r":2,"v":0.03},{"s":"Tributary","l":"t4","r":4,"v":0.02},{"s":"Tributary","l":"t4","r":10,"v":0.0105},{"s":"Tributary","l":"t4","r":20,"v":0.0068},{"s":"Tributary","l":"t4","r":50,"v":0.0039},{"s":"Tributary","l":"t4","r":75,"v":0.0034},{"s":"Tributary","l":"t4","r":95,"v":0.0024},{"s":"Tributary","l":"t4","r":140,"v":0.0017},{"s":"Tributary","l":"t4","r":356,"v":0.0017},
{"s":"Tributary","l":"t5","r":1,"v":0.035},{"s":"Tributary","l":"t5","r":2,"v":0.027},{"s":"Tributary","l":"t5","r":4,"v":0.019},{"s":"Tributary","l":"t5","r":10,"v":0.01},{"s":"Tributary","l":"t5","r":20,"v":0.0066},{"s":"Tributary","l":"t5","r":50,"v":0.0038},{"s":"Tributary","l":"t5","r":75,"v":0.0033},{"s":"Tributary","l":"t5","r":95,"v":0.0022},{"s":"Tributary","l":"t5","r":150,"v":0.0016},{"s":"Tributary","l":"t5","r":356,"v":0.0016},
{"s":"Tributary","l":"t6","r":1,"v":0.028},{"s":"Tributary","l":"t6","r":2,"v":0.022},{"s":"Tributary","l":"t6","r":4,"v":0.017},{"s":"Tributary","l":"t6","r":10,"v":0.0095},{"s":"Tributary","l":"t6","r":20,"v":0.0063},{"s":"Tributary","l":"t6","r":50,"v":0.0037},{"s":"Tributary","l":"t6","r":75,"v":0.0032},{"s":"Tributary","l":"t6","r":100,"v":0.0021},{"s":"Tributary","l":"t6","r":150,"v":0.0016},{"s":"Tributary","l":"t6","r":356,"v":0.0016},
{"s":"Tributary","l":"t7","r":1,"v":0.025},{"s":"Tributary","l":"t7","r":2,"v":0.02},{"s":"Tributary","l":"t7","r":4,"v":0.015},{"s":"Tributary","l":"t7","r":10,"v":0.009},{"s":"Tributary","l":"t7","r":20,"v":0.006},{"s":"Tributary","l":"t7","r":50,"v":0.0036},{"s":"Tributary","l":"t7","r":75,"v":0.0031},{"s":"Tributary","l":"t7","r":100,"v":0.002},{"s":"Tributary","l":"t7","r":160,"v":0.0015},{"s":"Tributary","l":"t7","r":356,"v":0.0015}
],
"bA": [
{"s":"Lake Bosten","r":1,"lo":0.16,"hi":0.24},{"s":"Lake Bosten","r":2,"lo":0.08,"hi":0.11},{"s":"Lake Bosten","r":4,"lo":0.058,"hi":0.078},{"s":"Lake Bosten","r":10,"lo":0.02,"hi":0.026},{"s":"Lake Bosten","r":30,"lo":0.0048,"hi":0.006},{"s":"Lake Bosten","r":60,"lo":0.0012,"hi":0.0017},{"s":"Lake Bosten","r":100,"lo":0.00043,"hi":0.0006},{"s":"Lake Bosten","r":170,"lo":0.00019,"hi":0.00029},{"s":"Lake Bosten","r":233,"lo":0.00009,"hi":0.00015},{"s":"Lake Bosten","r":356,"lo":0.00008,"hi":0.00014},
{"s":"Kaidu River","r":1,"lo":0.09,"hi":0.12},{"s":"Kaidu River","r":2,"lo":0.042,"hi":0.055},{"s":"Kaidu River","r":4,"lo":0.025,"hi":0.032},{"s":"Kaidu River","r":10,"lo":0.0105,"hi":0.0135},{"s":"Kaidu River","r":30,"lo":0.0042,"hi":0.005},{"s":"Kaidu River","r":86,"lo":0.0017,"hi":0.0022},{"s":"Kaidu River","r":130,"lo":0.0012,"hi":0.0019},{"s":"Kaidu River","r":356,"lo":0.0012,"hi":0.0019},
{"s":"Tributary","r":1,"lo":0.04,"hi":0.1},{"s":"Tributary","r":2,"lo":0.022,"hi":0.04},{"s":"Tributary","r":4,"lo":0.017,"hi":0.024},{"s":"Tributary","r":10,"lo":0.009,"hi":0.011},{"s":"Tributary","r":30,"lo":0.0048,"hi":0.0055},{"s":"Tributary","r":70,"lo":0.0031,"hi":0.0036},{"s":"Tributary","r":106,"lo":0.0017,"hi":0.002},{"s":"Tributary","r":356,"lo":0.0016,"hi":0.0018}
],
"bM": [
{"s":"Lake Bosten","r":1,"v":0.196},{"s":"Lake Bosten","r":2,"v":0.092},{"s":"Lake Bosten","r":4,"v":0.067},{"s":"Lake Bosten","r":6.7,"v":0.039},{"s":"Lake Bosten","r":10.8,"v":0.0226},{"s":"Lake Bosten","r":17.6,"v":0.0118},{"s":"Lake Bosten","r":28.6,"v":0.0055},{"s":"Lake Bosten","r":44,"v":0.0026},{"s":"Lake Bosten","r":64,"v":0.0012},{"s":"Lake Bosten","r":104,"v":0.00051},{"s":"Lake Bosten","r":170,"v":0.00024},{"s":"Lake Bosten","r":233,"v":0.000118},{"s":"Lake Bosten","r":356,"v":0.000118},
{"s":"Kaidu River","r":1,"v":0.103},{"s":"Kaidu River","r":2,"v":0.048},{"s":"Kaidu River","r":4,"v":0.028},{"s":"Kaidu River","r":7.4,"v":0.0163},{"s":"Kaidu River","r":12.4,"v":0.0094},{"s":"Kaidu River","r":21,"v":0.0061},{"s":"Kaidu River","r":36,"v":0.004},{"s":"Kaidu River","r":62,"v":0.0026},{"s":"Kaidu River","r":86,"v":0.0019},{"s":"Kaidu River","r":119,"v":0.0015},{"s":"Kaidu River","r":356,"v":0.0015},
{"s":"Tributary","r":1,"v":0.074},{"s":"Tributary","r":2,"v":0.031},{"s":"Tributary","r":4,"v":0.0203},{"s":"Tributary","r":7.4,"v":0.0131},{"s":"Tributary","r":12.4,"v":0.0081},{"s":"Tributary","r":21,"v":0.0058},{"s":"Tributary","r":36,"v":0.0044},{"s":"Tributary","r":62,"v":0.0036},{"s":"Tributary","r":77,"v":0.0029},{"s":"Tributary","r":90,"v":0.0023},{"s":"Tributary","r":106,"v":0.00187},{"s":"Tributary","r":140,"v":0.0017},{"s":"Tributary","r":356,"v":0.0017}
],
"cB": [{"b":0,"n":72},{"b":1,"n":92},{"b":2,"n":175},{"b":3,"n":731},{"b":4,"n":1292},{"b":5,"n":1309},{"b":6,"n":638},{"b":7,"n":256},{"b":8,"n":92},{"b":9,"n":48},{"b":10,"n":24},{"b":11,"n":10},{"b":12,"n":5},{"b":13,"n":3}],
"cL": [{"b":0,"n":110},{"b":1,"n":292},{"b":2,"n":474},{"b":3,"n":593},{"b":4,"n":635},{"b":5,"n":613},{"b":6,"n":543},{"b":7,"n":450},{"b":8,"n":354},{"b":9,"n":259},{"b":10,"n":181},{"b":11,"n":122},{"b":12,"n":80},{"b":13,"n":50}],
"dB": [{"b":0,"n":306},{"b":1,"n":194},{"b":2,"n":163},{"b":3,"n":217},{"b":4,"n":180},{"b":5,"n":112},{"b":6,"n":82.5},{"b":7,"n":54},{"b":8,"n":33.5},{"b":9,"n":21.5},{"b":10,"n":22.3},{"b":11,"n":11},{"b":12,"n":9.5},{"b":13,"n":3.6},{"b":14,"n":2}],
"dL": [{"b":0,"n":270},{"b":1,"n":255},{"b":2,"n":219},{"b":3,"n":178},{"b":4,"n":136},{"b":5,"n":104},{"b":6,"n":73},{"b":7,"n":52},{"b":8,"n":37},{"b":9,"n":26},{"b":10,"n":20},{"b":11,"n":14.5},{"b":12,"n":11},{"b":13,"n":9},{"b":14,"n":7}],
"eO": [{"r":1,"v":9500},{"r":2,"v":9000},{"r":3,"v":5500},{"r":4,"v":4600},{"r":5,"v":4000},{"r":6,"v":3500},{"r":8,"v":2900},{"r":10,"v":2500},{"r":12,"v":2100},{"r":15,"v":1800},{"r":18,"v":1500},{"r":22,"v":1250},{"r":27,"v":1050},{"r":33,"v":880},{"r":40,"v":750},{"r":48,"v":640},{"r":57,"v":550},{"r":68,"v":470},{"r":80,"v":410},{"r":95,"v":360},{"r":110,"v":320},{"r":130,"v":280},{"r":150,"v":250},{"r":175,"v":225},{"r":200,"v":205},{"r":230,"v":185},{"r":265,"v":168},
{"r":300,"v":152},{"r":340,"v":140},{"r":380,"v":130},{"r":420,"v":122},{"r":460,"v":115},{"r":500,"v":109},{"r":540,"v":104},{"r":580,"v":99},{"r":620,"v":95},{"r":660,"v":92},{"r":700,"v":90},{"r":740,"v":88},{"r":780,"v":85.5},{"r":820,"v":83},{"r":860,"v":80},{"r":900,"v":77.5},{"r":940,"v":75},{"r":980,"v":72.5},{"r":1020,"v":70},{"r":1060,"v":68},{"r":1100,"v":66},{"r":1140,"v":64},{"r":1180,"v":62},{"r":1220,"v":60},{"r":1260,"v":58},{"r":1300,"v":56.5},{"r":1340,"v":55},{"r":1380,"v":53},{"r":1420,"v":51},{"r":1460,"v":50},{"r":1500,"v":49},{"r":1540,"v":47.7},{"r":1580,"v":46.5},{"r":1620,"v":45.5},{"r":1660,"v":44.5},{"r":1700,"v":43.5},{"r":1740,"v":42.5},{"r":1780,"v":41.7},{"r":1820,"v":41},{"r":1860,"v":40.2},{"r":1900,"v":39.5},{"r":1940,"v":39},{"r":1980,"v":38.5},{"r":2020,"v":37.7},{"r":2060,"v":37},{"r":2100,"v":36.2},{"r":2140,"v":35.5},{"r":2180,"v":35},{"r":2220,"v":34.5},{"r":2260,"v":33.7},{"r":2300,"v":33},{"r":2340,"v":32.5},{"r":2380,"v":32},{"r":2420,"v":31.2},{"r":2460,"v":30.5},{"r":2500,"v":29.7},{"r":2540,"v":29},{"r":2580,"v":28.2},{"r":2620,"v":27.5},{"r":2660,"v":27},{"r":2700,"v":26.5},{"r":2740,"v":26},{"r":2780,"v":25.5},{"r":2820,"v":25},{"r":2860,"v":24.5},{"r":2900,"v":23.7},{"r":2940,"v":23},{"r":2980,"v":22.5},{"r":3020,"v":22},{"r":3060,"v":21.2},{"r":3100,"v":20.5},{"r":3140,"v":20},{"r":3180,"v":19.5},{"r":3220,"v":19},{"r":3260,"v":18.5},{"r":3300,"v":18},{"r":3340,"v":17.5},{"r":3380,"v":17},{"r":3420,"v":16.5},{"r":3460,"v":16},{"r":3500,"v":15.5},{"r":3540,"v":15},{"r":3580,"v":14.5},{"r":3620,"v":14},{"r":3660,"v":13.5},{"r":3700,"v":13},{"r":3740,"v":12.5},{"r":3780,"v":12},{"r":3820,"v":11.5},{"r":3860,"v":11.1},{"r":3900,"v":10.7},{"r":3940,"v":10.3},{"r":3980,"v":9.9},{"r":4020,"v":9.5},{"r":4060,"v":9.1},{"r":4100,"v":8.7},{"r":4140,"v":8.3},{"r":4180,"v":7.9},{"r":4220,"v":7.5},{"r":4260,"v":7.1},{"r":4300,"v":6.7},{"r":4340,"v":6.3},{"r":4380,"v":5.9},{"r":4420,"v":5.5},{"r":4460,"v":5},{"r":4500,"v":4.5},{"r":4540,"v":4},{"r":4580,"v":3.5},{"r":4620,"v":3},{"r":4650,"v":2.6},{"r":4680,"v":2.2},{"r":4700,"v":2},{"r":4710,"v":1.5},{"r":4720,"v":1}],
"eGS": [{"m":"GS","r":1,"v":32000},{"m":"GS","r":2,"v":1}],
"eBS": [{"m":"BS","r":1,"v":420},{"m":"BS","r":13,"v":380},{"m":"BS","r":100,"v":300},{"m":"BS","r":231,"v":237},{"m":"BS","r":450,"v":190},{"m":"BS","r":668,"v":160},{"m":"BS","r":1000,"v":120},{"m":"BS","r":1317,"v":90},{"m":"BS","r":1700,"v":70},{"m":"BS","r":2100,"v":58},{"m":"BS","r":2621,"v":46},{"m":"BS","r":3056,"v":34},{"m":"BS","r":3400,"v":26},{"m":"BS","r":3708,"v":20},{"m":"BS","r":3925,"v":15},{"m":"BS","r":4143,"v":9},{"m":"BS","r":4360,"v":5.4},{"m":"BS","r":4534,"v":2.9},{"m":"BS","r":4643,"v":1.3},{"m":"BS","r":4700,"v":1}],
"eV": [{"m":"Volkov","r":1,"v":2630},{"m":"Volkov","r":13,"v":1430},{"m":"Volkov","r":87,"v":815},{"m":"Volkov","r":239,"v":530},{"m":"Volkov","r":404,"v":386},{"m":"Volkov","r":591,"v":315},{"m":"Volkov","r":769,"v":259},{"m":"Volkov","r":948,"v":211},{"m":"Volkov","r":1122,"v":176},{"m":"Volkov","r":1295,"v":143},{"m":"Volkov","r":1469,"v":121},{"m":"Volkov","r":1634,"v":103},{"m":"Volkov","r":1817,"v":90},{"m":"Volkov","r":1991,"v":79},{"m":"Volkov","r":2174,"v":70},{"m":"Volkov","r":2347,"v":62},{"m":"Volkov","r":2526,"v":55},{"m":"Volkov","r":2708,"v":48},{"m":"Volkov","r":2882,"v":43.6},{"m":"Volkov","r":3056,"v":38.6},{"m":"Volkov","r":3230,"v":33.4},{"m":"Volkov","r":3404,"v":29.3},{"m":"Volkov","r":3578,"v":25.1},{"m":"Volkov","r":3738,"v":21.5},{"m":"Volkov","r":3904,"v":18.5},{"m":"Volkov","r":4043,"v":15.1},{"m":"Volkov","r":4186,"v":12.3},{"m":"Volkov","r":4325,"v":9.8},{"m":"Volkov","r":4425,"v":7},{"m":"Volkov","r":4521,"v":5},{"m":"Volkov","r":4612,"v":3.4},{"m":"Volkov","r":4680,"v":2}],
"eP": [{"m":"PLN","r":1,"v":2000},{"m":"PLN","r":3,"v":1500},{"m":"PLN","r":6,"v":1250},{"m":"PLN","r":13,"v":1000},{"m":"PLN","r":30,"v":700},{"m":"PLN","r":57,"v":490},{"m":"PLN","r":100,"v":324},{"m":"PLN","r":160,"v":240},{"m":"PLN","r":231,"v":185},{"m":"PLN","r":330,"v":150},{"m":"PLN","r":450,"v":123},{"m":"PLN","r":650,"v":100},{"m":"PLN","r":890,"v":86},{"m":"PLN","r":1100,"v":72},{"m":"PLN","r":1323,"v":60},{"m":"PLN","r":1540,"v":52},{"m":"PLN","r":1760,"v":46},{"m":"PLN","r":1980,"v":42},{"m":"PLN","r":2200,"v":38},{"m":"PLN","r":2420,"v":34},{"m":"PLN","r":2630,"v":30},{"m":"PLN","r":2850,"v":27},{"m":"PLN","r":3070,"v":23},{"m":"PLN","r":3290,"v":20},{"m":"PLN","r":3400,"v":19},{"m":"PLN","r":3400,"v":18},{"m":"PLN","r":3480,"v":18},{"m":"PLN","r":3480,"v":17},{"m":"PLN","r":3560,"v":17},{"m":"PLN","r":3560,"v":16},{"m":"PLN","r":3640,"v":16},{"m":"PLN","r":3640,"v":15},{"m":"PLN","r":3710,"v":15},{"m":"PLN","r":3710,"v":14},{"m":"PLN","r":3780,"v":14},{"m":"PLN","r":3780,"v":13},{"m":"PLN","r":3850,"v":13},{"m":"PLN","r":3850,"v":12},{"m":"PLN","r":3920,"v":12},{"m":"PLN","r":3920,"v":11},{"m":"PLN","r":3990,"v":11},{"m":"PLN","r":3990,"v":10},{"m":"PLN","r":4060,"v":10},{"m":"PLN","r":4060,"v":9},{"m":"PLN","r":4130,"v":9},{"m":"PLN","r":4130,"v":8},{"m":"PLN","r":4210,"v":8},{"m":"PLN","r":4210,"v":7},{"m":"PLN","r":4290,"v":7},{"m":"PLN","r":4290,"v":6},{"m":"PLN","r":4370,"v":6},{"m":"PLN","r":4370,"v":5},{"m":"PLN","r":4450,"v":5},{"m":"PLN","r":4450,"v":4},{"m":"PLN","r":4530,"v":4},{"m":"PLN","r":4530,"v":3},{"m":"PLN","r":4620,"v":3},{"m":"PLN","r":4620,"v":2},{"m":"PLN","r":4705,"v":2},{"m":"PLN","r":4705,"v":1},{"m":"PLN","r":4722,"v":1}],
"fO": [{"r":1,"v":29000},{"r":2,"v":14000},{"r":3,"v":8000},{"r":4,"v":6500},{"r":5,"v":5500},{"r":6,"v":4800},{"r":7,"v":4200},{"r":8,"v":3700},{"r":10,"v":3000},{"r":12,"v":2500},{"r":14,"v":2100},{"r":17,"v":1700},{"r":20,"v":1400},{"r":24,"v":1100},{"r":28,"v":900},{"r":33,"v":740},{"r":38,"v":620},{"r":44,"v":520},{"r":50,"v":440},{"r":57,"v":370},{"r":65,"v":310},{"r":73,"v":260},{"r":82,"v":220},{"r":92,"v":185},{"r":102,"v":160},{"r":115,"v":135},{"r":128,"v":115},{"r":142,"v":98},{"r":156,"v":85},{"r":170,"v":74},{"r":185,"v":65},{"r":200,"v":57},{"r":210,"v":53.5},{"r":220,"v":50},{"r":230,"v":47},{"r":240,"v":44},{"r":250,"v":41.5},{"r":260,"v":39},{"r":270,"v":37},{"r":280,"v":35},{"r":290,"v":33.5},{"r":300,"v":32},{"r":312,"v":30},{"r":325,"v":28.5},{"r":337,"v":27},{"r":350,"v":25.5},{"r":362,"v":24.2},{"r":375,"v":23},{"r":387,"v":22},{"r":400,"v":21},{"r":412,"v":20.2},{"r":425,"v":19.5},{"r":437,"v":18.7},{"r":450,"v":18},{"r":462,"v":17.2},{"r":475,"v":16.5},{"r":487,"v":16},{"r":500,"v":15.5},{"r":515,"v":14.7},{"r":530,"v":14},{"r":545,"v":13.5},{"r":560,"v":13},{"r":575,"v":12.5},{"r":590,"v":12},{"r":602,"v":11.5},{"r":615,"v":11},{"r":630,"v":11},{"r":645,"v":10},{"r":660,"v":10},{"r":675,"v":9},{"r":690,"v":9},{"r":705,"v":8},{"r":720,"v":8},{"r":735,"v":7},{"r":750,"v":7},{"r":765,"v":6},{"r":780,"v":6},{"r":795,"v":5},{"r":810,"v":5},{"r":825,"v":5},{"r":840,"v":4},{"r":855,"v":4},{"r":870,"v":4},{"r":885,"v":4},{"r":900,"v":3},{"r":915,"v":3},{"r":930,"v":3},{"r":945,"v":3},{"r":960,"v":3},{"r":975,"v":3},{"r":990,"v":3},{"r":1005,"v":2},{"r":1020,"v":2},{"r":1035,"v":2},{"r":1050,"v":2},{"r":1065,"v":2},{"r":1080,"v":2},{"r":1095,"v":2},{"r":1110,"v":2},{"r":1125,"v":1},{"r":1140,"v":1},{"r":1155,"v":1},{"r":1170,"v":1},{"r":1185,"v":1},{"r":1200,"v":1},{"r":1215,"v":1},{"r":1230,"v":1},{"r":1245,"v":1},{"r":1260,"v":1},{"r":1275,"v":1},{"r":1290,"v":1},{"r":1305,"v":1},{"r":1320,"v":1},{"r":1335,"v":1},{"r":1350,"v":1},{"r":1365,"v":1},{"r":1380,"v":1},{"r":1395,"v":1}],
"fGS": [{"m":"GS","r":1,"v":5700},{"m":"GS","r":57,"v":1700},{"m":"GS","r":100,"v":800},{"m":"GS","r":148,"v":300},{"m":"GS","r":200,"v":110},{"m":"GS","r":250,"v":40},{"m":"GS","r":300,"v":15},{"m":"GS","r":350,"v":6},{"m":"GS","r":400,"v":2.3},{"m":"GS","r":445,"v":0.6}],
"fBS": [{"m":"BS","r":1,"v":1500},{"m":"BS","r":18,"v":850},{"m":"BS","r":57,"v":490},{"m":"BS","r":134,"v":400},{"m":"BS","r":225,"v":310},{"m":"BS","r":354,"v":218},{"m":"BS","r":484,"v":160},{"m":"BS","r":613,"v":123},{"m":"BS","r":743,"v":96},{"m":"BS","r":872,"v":78},{"m":"BS","r":1001,"v":61},{"m":"BS","r":1131,"v":42},{"m":"BS","r":1234,"v":25},{"m":"BS","r":1312,"v":12.3},{"m":"BS","r":1377,"v":4.9},{"m":"BS","r":1403,"v":1.75},{"m":"BS","r":1410,"v":1}],
"fV": [{"m":"Volkov","r":1,"v":9000},{"m":"Volkov","r":8,"v":6400},{"m":"Volkov","r":65,"v":4000},{"m":"Volkov","r":110,"v":2600},{"m":"Volkov","r":158,"v":1770},{"m":"Volkov","r":211,"v":1240},{"m":"Volkov","r":264,"v":870},{"m":"Volkov","r":317,"v":620},{"m":"Volkov","r":370,"v":440},{"m":"Volkov","r":426,"v":323},{"m":"Volkov","r":477,"v":235},{"m":"Volkov","r":531,"v":169},{"m":"Volkov","r":584,"v":125},{"m":"Volkov","r":634,"v":91},{"m":"Volkov","r":686,"v":68},{"m":"Volkov","r":730,"v":51},{"m":"Volkov","r":775,"v":38.5},{"m":"Volkov","r":818,"v":30},{"m":"Volkov","r":859,"v":22.6},{"m":"Volkov","r":905,"v":17.9},{"m":"Volkov","r":946,"v":14},{"m":"Volkov","r":985,"v":10.8},{"m":"Volkov","r":1021,"v":8.1},{"m":"Volkov","r":1060,"v":6.2},{"m":"Volkov","r":1101,"v":4.9},{"m":"Volkov","r":1141,"v":4},{"m":"Volkov","r":1176,"v":3},{"m":"Volkov","r":1200,"v":2},{"m":"Volkov","r":1264,"v":2},{"m":"Volkov","r":1271,"v":1.17}],
"fP": [{"m":"PLN","r":1,"v":54000},{"m":"PLN","r":2,"v":16000},{"m":"PLN","r":4,"v":8000},{"m":"PLN","r":8,"v":4600},{"m":"PLN","r":12,"v":2700},{"m":"PLN","r":18,"v":1660},{"m":"PLN","r":30,"v":1000},{"m":"PLN","r":44,"v":660},{"m":"PLN","r":70,"v":360},{"m":"PLN","r":96,"v":215},{"m":"PLN","r":130,"v":140},{"m":"PLN","r":160,"v":105},{"m":"PLN","r":190,"v":78},{"m":"PLN","r":225,"v":57},{"m":"PLN","r":260,"v":46},{"m":"PLN","r":290,"v":38},{"m":"PLN","r":320,"v":33},{"m":"PLN","r":354,"v":28},{"m":"PLN","r":390,"v":24},{"m":"PLN","r":420,"v":20},{"m":"PLN","r":450,"v":18},{"m":"PLN","r":484,"v":16},{"m":"PLN","r":520,"v":14},{"m":"PLN","r":550,"v":12.3},{"m":"PLN","r":585,"v":11},{"m":"PLN","r":620,"v":10},{"m":"PLN","r":620,"v":9},{"m":"PLN","r":658,"v":9},{"m":"PLN","r":658,"v":8},{"m":"PLN","r":697,"v":8},{"m":"PLN","r":697,"v":7},{"m":"PLN","r":730,"v":7},{"m":"PLN","r":730,"v":6},{"m":"PLN","r":768,"v":6},{"m":"PLN","r":768,"v":5},{"m":"PLN","r":827,"v":5},{"m":"PLN","r":827,"v":4},{"m":"PLN","r":898,"v":4},{"m":"PLN","r":898,"v":3},{"m":"PLN","r":1001,"v":3},{"m":"PLN","r":1001,"v":2},{"m":"PLN","r":1137,"v":2},{"m":"PLN","r":1137,"v":1},{"m":"PLN","r":1410,"v":1}]
},
"spacing": 35,
"resolve": {"scale": {"color": "independent", "strokeDash": "independent"}, "legend": {"color": "independent", "strokeDash": "independent"}},
"hconcat": [
{
"vconcat": [
{
  "width": 535.4, "height": 398,
  "title": {"text": "a", "dx": -153, "offset": -4.95},
  "encoding": {
    "y": {"field": "v", "type": "quantitative", "scale": {"type": "log", "domain": [0.66, 20280], "nice": false},
      "axis": {"values": [0.7,0.8,0.9,1,2,3,4,5,6,7,8,9,10,20,30,40,50,60,70,80,90,100,200,300,400,500,600,700,800,900,1000,2000,3000,4000,5000,6000,7000,8000,9000,10000,20000],
        "labelExpr": "datum.value == 1 ? '10⁰' : datum.value == 10 ? '10¹' : datum.value == 100 ? '10²' : datum.value == 1000 ? '10³' : datum.value == 10000 ? '10⁴' : ''",
        "tickSize": 10, "labelAlign": "left", "labelBaseline": "middle", "labelPadding": 68,
        "title": "Abundance", "titleFontSize": 37, "titleX": -104, "titleY": 191}},
    "color": {"field": "s", "type": "nominal", "scale": {"domain": ["Lake Bosten", "Kaidu River", "Tributary"], "range": ["#619CFF", "#00BA38", "#F8766D"]},
      "legend": {"orient": "none", "legendX": 8.2, "legendY": 242, "title": null, "symbolSize": 1490, "symbolStrokeWidth": 9, "labelOffset": 8.5, "rowPadding": 2}},
    "detail": {"field": "l"},
    "order": {"value": null}
  },
  "layer": [
    {"data": {"name": "aB"}, "mark": {"type": "line", "strokeWidth": 2.3},
     "encoding": {"x": {"field": "r", "type": "quantitative", "scale": {"type": "log", "domain": [0.715, 7180], "nice": false},
       "axis": {"orient": "bottom", "values": [1, 10, 100, 1000], "labelExpr": "datum.value == 1 ? '10⁰' : datum.value == 10 ? '10¹' : datum.value == 100 ? '10²' : '10³'", "tickSize": 15, "labelPadding": 16, "title": "Species rank", "titleX": 266, "titleY": 118}}}},
    {"data": {"name": "aGR"}, "mark": {"type": "line", "strokeWidth": 2.3},
     "encoding": {"x": {"field": "r", "type": "quantitative", "scale": {"type": "log", "domain": [0.715, 7180], "nice": false},
       "axis": {"orient": "bottom", "values": [0.8,0.9,2,3,4,5,6,7,8,9,20,30,40,50,60,70,80,90,200,300,400,500,600,700,800,900,2000,3000,4000,5000,6000,7000], "tickSize": 10, "labels": false, "domain": false, "title": null}}}}
  ],
  "resolve": {"axis": {"x": "independent"}}
},
{"width": 1, "height": 241.2, "data": {"values": []}, "mark": "point"},
{
  "width": 535.4, "height": 361.1,
  "title": {"text": "c", "dx": -158, "offset": 10.8},
  "encoding": {
    "x": {"field": "b", "type": "quantitative", "scale": {"domain": [-0.964, 13.99], "nice": false, "zero": false},
      "axis": {"values": [0,2,4,6,8,10,12], "format": "d", "domain": false, "ticks": false, "labelPadding": 33, "title": "Log₂(number of individuals)", "titleX": 267, "titleY": 109}},
    "y": {"field": "n", "type": "quantitative", "scale": {"domain": [0, 1200], "nice": false},
      "axis": {"values": [0,200,400,600,800,1000,1200], "format": "d", "labelExpr": "datum.value % 400 == 0 ? datum.label : ''", "labelAngle": -90, "labelAlign": "center", "labelBaseline": "alphabetic", "tickSize": 15, "labelPadding": 22, "title": "Number of species", "titleFontSize": 37.5, "titleX": -104, "titleY": 153}}
  },
  "layer": [
    {"data": {"name": "cB"}, "mark": {"type": "bar", "size": 30.4, "fill": "#FDB863", "stroke": "#000000", "strokeWidth": 2}},
    {"data": {"name": "cL"}, "mark": {"type": "line", "color": "#FF0000", "strokeWidth": 5}}
  ]
},
{"width": 1, "height": 187.9, "data": {"values": []}, "mark": "point"},
{
  "width": 535.4, "height": 413.7,
  "title": {"text": "e", "dx": -158, "offset": -10.35},
  "encoding": {
    "x": {"field": "r", "type": "quantitative", "scale": {"domain": [-195, 4926], "nice": false, "zero": false},
      "axis": {"values": [500,1000,1500,2000,2500,3000,3500,4000,4500], "format": "d", "labelExpr": "(datum.value - 500) % 1000 == 0 ? datum.label : ''", "tickSize": 17, "labelPadding": 12.5, "title": "Species rank", "titleX": 267, "titleY": 117}},
    "y": {"field": "v", "type": "quantitative", "scale": {"type": "log", "domain": [0.665, 54000], "nice": false},
      "axis": {"values": [1,10,100,1000,10000], "format": "d", "labelExpr": "datum.value == 1000 ? '' : datum.label", "labelAngle": -90, "labelAlign": "center", "labelBaseline": "alphabetic", "tickSize": 15.5, "labelPadding": 22, "title": "Abundance", "titleFontSize": 37, "titleX": -104, "titleY": 208}}
  },
  "layer": [
    {"data": {"name": "eO"}, "mark": {"type": "point", "shape": "circle", "filled": false, "size": 300, "strokeWidth": 4.2, "color": "#FDB863", "opacity": 1}},
    {"data": {"name": "eGS"}, "mark": {"type": "line", "strokeWidth": 5, "clip": true},
     "encoding": {
       "color": {"field": "m", "type": "nominal", "scale": {"domain": ["BS","GS","Volkov","PLN"], "range": ["#00EE00","#4D4D4D","#0000FF","#FF0000"]},
         "legend": {"orient": "none", "legendX": 148, "legendY": 23.3, "title": null, "symbolSize": 1332, "symbolStrokeWidth": 5, "labelOffset": 10, "rowPadding": 10.6,
           "labelExpr": "datum.label == 'BS' ? 'BS (AIC = 50495)***' : datum.label == 'GS' ? 'GS (AIC = Inf)***' : datum.label == 'Volkov' ? 'Volkov (AIC = 49078)***' : 'PLN (AIC = 47414)'"}},
       "strokeDash": {"field": "m", "type": "nominal", "scale": {"domain": ["BS","GS","Volkov","PLN"], "range": [[8,13,30,13],[20,23],[5,14],[1,0]]},
         "legend": {"orient": "none", "legendX": 148, "legendY": 23.3, "title": null, "symbolSize": 1332, "symbolStrokeWidth": 5, "labelOffset": 10, "rowPadding": 10.6,
           "labelExpr": "datum.label == 'BS' ? 'BS (AIC = 50495)***' : datum.label == 'GS' ? 'GS (AIC = Inf)***' : datum.label == 'Volkov' ? 'Volkov (AIC = 49078)***' : 'PLN (AIC = 47414)'"}},
       "order": {"value": null}}},
    {"data": {"name": "eBS"}, "mark": {"type": "line", "strokeWidth": 5, "clip": true},
     "encoding": {
       "color": {"field": "m", "type": "nominal", "scale": {"domain": ["BS","GS","Volkov","PLN"], "range": ["#00EE00","#4D4D4D","#0000FF","#FF0000"]}},
       "strokeDash": {"field": "m", "type": "nominal", "scale": {"domain": ["BS","GS","Volkov","PLN"], "range": [[8,13,30,13],[20,23],[5,14],[1,0]]}},
       "order": {"value": null}}},
    {"data": {"name": "eV"}, "mark": {"type": "line", "strokeWidth": 5, "clip": true},
     "encoding": {
       "color": {"field": "m", "type": "nominal", "scale": {"domain": ["BS","GS","Volkov","PLN"], "range": ["#00EE00","#4D4D4D","#0000FF","#FF0000"]}},
       "strokeDash": {"field": "m", "type": "nominal", "scale": {"domain": ["BS","GS","Volkov","PLN"], "range": [[8,13,30,13],[20,23],[5,14],[1,0]]}},
       "order": {"value": null}}},
    {"data": {"name": "eP"}, "mark": {"type": "line", "strokeWidth": 5.5, "clip": true},
     "encoding": {
       "color": {"field": "m", "type": "nominal", "scale": {"domain": ["BS","GS","Volkov","PLN"], "range": ["#00EE00","#4D4D4D","#0000FF","#FF0000"]}},
       "strokeDash": {"field": "m", "type": "nominal", "scale": {"domain": ["BS","GS","Volkov","PLN"], "range": [[8,13,30,13],[20,23],[5,14],[1,0]]}},
       "order": {"value": null}}}
  ]
}
],
"spacing": 0,
"bounds": "flush",
"resolve": {"scale": {"color": "independent", "strokeDash": "independent"}, "legend": {"color": "independent", "strokeDash": "independent"}}
},
{
"vconcat": [
{
  "width": 535, "height": 382,
  "title": {"text": "b", "dx": -151, "offset": -0.7},
  "layer": [
    {"data": {"name": "bT"}, "mark": {"type": "line", "strokeWidth": 1.2},
     "encoding": {
       "x": {"field": "r", "type": "quantitative", "scale": {"type": "log", "domain": [0.79, 467], "nice": false},
         "axis": {"orient": "bottom", "offset": 15, "values": [1, 10, 100], "labelExpr": "datum.value == 1 ? '10⁰' : datum.value == 10 ? '10¹' : '10²'", "tickSize": 15, "labelPadding": 16.6, "title": "Species rank", "titleX": 267, "titleY": 119}},
       "y": {"field": "v", "type": "quantitative", "scale": {"type": "log", "domain": [0.0000197, 1.112], "nice": false},
         "axis": {"values": [0.00002,0.00003,0.00004,0.00005,0.00006,0.00007,0.00008,0.00009,0.0001,0.0002,0.0003,0.0004,0.0005,0.0006,0.0007,0.0008,0.0009,0.001,0.002,0.003,0.004,0.005,0.006,0.007,0.008,0.009,0.01,0.02,0.03,0.04,0.05,0.06,0.07,0.08,0.09,0.1,0.2,0.3,0.4,0.5,0.6,0.7,0.8,0.9,1],
           "labelExpr": "datum.value == 1 ? '10⁰' : datum.value == 0.1 ? '10⁻¹' : datum.value == 0.01 ? '10⁻²' : datum.value == 0.001 ? '10⁻³' : datum.value == 0.0001 ? '10⁻⁴' : ''",
           "tickSize": 11, "labelAlign": "left", "labelBaseline": "middle", "labelPadding": 69.5,
           "title": "Relative abundance", "titleFontSize": 39.5, "titleX": -104, "titleY": 191}},
       "color": {"field": "s", "type": "nominal", "scale": {"domain": ["Lake Bosten", "Kaidu River", "Tributary"], "range": ["#619CFF", "#00BA38", "#F8766D"]},
         "legend": {"orient": "none", "legendX": 5.6, "legendY": 242, "title": null, "symbolSize": 1490, "symbolStrokeWidth": 9, "labelOffset": 10.7, "rowPadding": 2}},
       "detail": {"field": "l"},
       "order": {"value": null}}},
    {"data": {"name": "bA"}, "mark": {"type": "area", "opacity": 0.35},
     "encoding": {
       "x": {"field": "r", "type": "quantitative", "scale": {"type": "log", "domain": [0.79, 467], "nice": false}, "axis": null},
       "y": {"field": "lo", "type": "quantitative", "scale": {"type": "log", "domain": [0.0000197, 1.112], "nice": false}, "axis": null},
       "y2": {"field": "hi"},
       "color": {"field": "s", "type": "nominal", "scale": {"domain": ["Lake Bosten", "Kaidu River", "Tributary"], "range": ["#619CFF", "#6FAE6F", "#F8766D"]}, "legend": null}}},
    {"data": {"name": "bM"}, "mark": {"type": "line", "strokeWidth": 10, "strokeCap": "round", "strokeJoin": "round"},
     "encoding": {
       "x": {"field": "r", "type": "quantitative", "scale": {"type": "log", "domain": [0.79, 467], "nice": false},
         "axis": {"orient": "bottom", "offset": 15, "values": [0.8,0.9,2,3,4,5,6,7,8,9,20,30,40,50,60,70,80,90,200], "tickSize": 9, "labels": false, "domain": false, "title": null}},
       "y": {"field": "v", "type": "quantitative", "scale": {"type": "log", "domain": [0.0000197, 1.112], "nice": false}, "axis": null},
       "color": {"field": "s", "type": "nominal", "scale": {"domain": ["Lake Bosten", "Kaidu River", "Tributary"], "range": ["#0000FF", "#00FF00", "#FF0000"]}, "legend": null},
       "order": {"value": null}}}
  ],
  "resolve": {"scale": {"color": "independent"}, "axis": {"x": "independent", "y": "independent"}}
},
{"width": 1, "height": 232, "data": {"values": []}, "mark": "point"},
{
  "width": 517.7, "height": 386.3,
  "title": {"text": "d", "dx": -151, "offset": -4.7},
  "encoding": {
    "x": {"field": "b", "type": "quantitative", "scale": {"domain": [-1.01, 14.5], "nice": false, "zero": false},
      "axis": {"values": [0,2,4,6,8,10,12,14], "format": "d", "domain": false, "ticks": false, "labelPadding": 31, "title": "Log₂(number of individuals)", "titleX": 267, "titleY": 107}},
    "y": {"field": "n", "type": "quantitative", "scale": {"domain": [0, 300], "nice": false},
      "axis": {"values": [0,50,100,150,200,250,300], "format": "d", "labelExpr": "indexof([0,50,150,250], datum.value) >= 0 ? datum.label : ''", "labelAngle": -90, "labelAlign": "center", "labelBaseline": "alphabetic", "tickSize": 15, "labelPadding": 23, "title": "Number of species", "titleFontSize": 37.5, "titleX": -104, "titleY": 179}}
  },
  "layer": [
    {"data": {"name": "dB"}, "mark": {"type": "bar", "size": 27.7, "fill": "#80B1D3", "stroke": "#000000", "strokeWidth": 2}},
    {"data": {"name": "dL"}, "mark": {"type": "line", "color": "#FF0000", "strokeWidth": 5}}
  ]
},
{"width": 1, "height": 187.9, "data": {"values": []}, "mark": "point"},
{
  "width": 535.4, "height": 413.7,
  "title": {"text": "f", "dx": -149, "offset": -11.85},
  "encoding": {
    "x": {"field": "r", "type": "quantitative", "scale": {"domain": [-57, 1468], "nice": false, "zero": false},
      "axis": {"values": [100,200,300,400,500,600,700,800,900,1000,1100,1200,1300], "format": "d", "labelExpr": "(datum.value - 100) % 300 == 0 ? datum.label : ''", "tickSize": 16.5, "labelPadding": 13, "title": "Species rank", "titleX": 267, "titleY": 117}},
    "y": {"field": "v", "type": "quantitative", "scale": {"type": "log", "domain": [0.665, 54000], "nice": false},
      "axis": {"values": [1,10,100,1000,10000], "format": "d", "labelExpr": "datum.value == 1000 ? '' : datum.label", "labelAngle": -90, "labelAlign": "center", "labelBaseline": "alphabetic", "tickSize": 15.5, "labelPadding": 22, "title": "Abundance", "titleFontSize": 37, "titleX": -104, "titleY": 208}}
  },
  "layer": [
    {"data": {"name": "fO"}, "mark": {"type": "point", "shape": "circle", "filled": false, "size": 300, "strokeWidth": 4.2, "color": "#80B1D3", "opacity": 1}},
    {"data": {"name": "fGS"}, "mark": {"type": "line", "strokeWidth": 5, "clip": true},
     "encoding": {
       "color": {"field": "m", "type": "nominal", "scale": {"domain": ["BS","GS","Volkov","PLN"], "range": ["#00EE00","#4D4D4D","#0000FF","#FF0000"]},
         "legend": {"orient": "none", "legendX": 144, "legendY": 23.3, "title": null, "symbolSize": 1332, "symbolStrokeWidth": 5, "labelOffset": 13.5, "rowPadding": 8,
           "labelExpr": "datum.label == 'BS' ? 'BS (AIC = 17604)***' : datum.label == 'GS' ? 'GS (AIC = 2572957)***' : datum.label == 'Volkov' ? 'Volkov (AIC = 12874)***' : 'PLN (AIC = 12114)'"}},
       "strokeDash": {"field": "m", "type": "nominal", "scale": {"domain": ["BS","GS","Volkov","PLN"], "range": [[8,13,30,13],[20,23],[5,14],[1,0]]},
         "legend": {"orient": "none", "legendX": 144, "legendY": 23.3, "title": null, "symbolSize": 1332, "symbolStrokeWidth": 5, "labelOffset": 13.5, "rowPadding": 8,
           "labelExpr": "datum.label == 'BS' ? 'BS (AIC = 17604)***' : datum.label == 'GS' ? 'GS (AIC = 2572957)***' : datum.label == 'Volkov' ? 'Volkov (AIC = 12874)***' : 'PLN (AIC = 12114)'"}},
       "order": {"value": null}}},
    {"data": {"name": "fBS"}, "mark": {"type": "line", "strokeWidth": 5, "clip": true},
     "encoding": {
       "color": {"field": "m", "type": "nominal", "scale": {"domain": ["BS","GS","Volkov","PLN"], "range": ["#00EE00","#4D4D4D","#0000FF","#FF0000"]}},
       "strokeDash": {"field": "m", "type": "nominal", "scale": {"domain": ["BS","GS","Volkov","PLN"], "range": [[8,13,30,13],[20,23],[5,14],[1,0]]}},
       "order": {"value": null}}},
    {"data": {"name": "fV"}, "mark": {"type": "line", "strokeWidth": 5, "clip": true},
     "encoding": {
       "color": {"field": "m", "type": "nominal", "scale": {"domain": ["BS","GS","Volkov","PLN"], "range": ["#00EE00","#4D4D4D","#0000FF","#FF0000"]}},
       "strokeDash": {"field": "m", "type": "nominal", "scale": {"domain": ["BS","GS","Volkov","PLN"], "range": [[8,13,30,13],[20,23],[5,14],[1,0]]}},
       "order": {"value": null}}},
    {"data": {"name": "fP"}, "mark": {"type": "line", "strokeWidth": 5.5, "clip": true},
     "encoding": {
       "color": {"field": "m", "type": "nominal", "scale": {"domain": ["BS","GS","Volkov","PLN"], "range": ["#00EE00","#4D4D4D","#0000FF","#FF0000"]}},
       "strokeDash": {"field": "m", "type": "nominal", "scale": {"domain": ["BS","GS","Volkov","PLN"], "range": [[8,13,30,13],[20,23],[5,14],[1,0]]}},
       "order": {"value": null}}}
  ]
}
],
"spacing": 0,
"bounds": "flush",
"resolve": {"scale": {"color": "independent", "strokeDash": "independent"}, "legend": {"color": "independent", "strokeDash": "independent"}}
}
]
}
